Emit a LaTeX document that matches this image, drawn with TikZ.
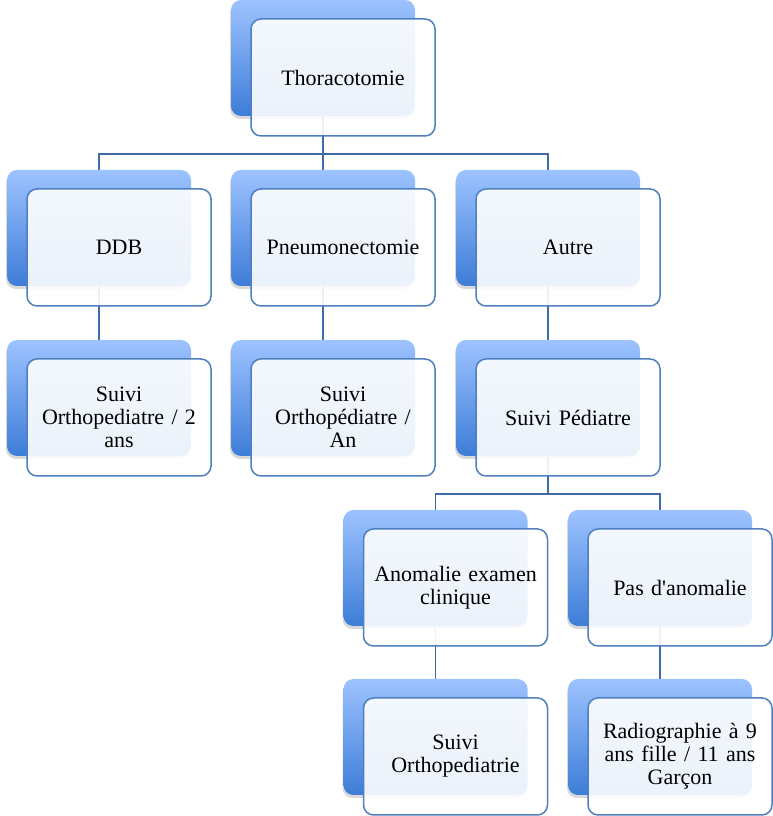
\documentclass[tikz,border=0pt]{standalone}
\usepackage{fontspec}
\setmainfont{Liberation Serif}
\usetikzlibrary{calc,shadows}
\definecolor{backtop}{HTML}{9DC3FF}
\definecolor{backbot}{HTML}{3D7DD8}
\definecolor{frontline}{HTML}{4F7FBE}
\definecolor{connc}{HTML}{3E6BA6}
\pgfdeclarelayer{bg}
\pgfsetlayers{bg,main}
\tikzset{
 backbox/.style={minimum width=184pt, minimum height=116pt, rounded corners=10pt, top color=backtop, bottom color=backbot, inner sep=0pt, drop shadow={opacity=0.3, shadow xshift=-1pt, shadow yshift=-3pt}},
 frontbox/.style={minimum width=184pt, minimum height=117pt, rounded corners=10pt, draw=frontline, line width=1.5pt, fill=white, fill opacity=0.9, text opacity=1, align=center, font=\fontsize{22}{23}\selectfont, inner sep=2pt, text width=176pt},
 connline/.style={draw=connc, line width=1.6pt}
}
\newcommand\smartnode[4]{%
 \node[backbox] (#1b) at (#2-20, 816-#3+19.5) {};
 \node[frontbox] (#1f) at (#2, 816-#3) {#4};
}
\begin{document}
\begin{tikzpicture}[x=1pt,y=1pt]
\useasboundingbox (0,0) rectangle (772,816);
\smartnode{th}{343}{77.5}{Thoracotomie}
\smartnode{ddb}{119}{247.5}{DDB}
\smartnode{pne}{343}{247.5}{Pneumonectomie}
\smartnode{aut}{568}{247.5}{Autre}
\smartnode{sot}{119}{417.5}{Suivi\\Orthopediatre / 2\\ans}
\smartnode{soa}{343}{417.5}{Suivi\\Orthopédiatre /\\An}
\smartnode{sped}{568}{417.5}{Suivi Pédiatre}
\smartnode{ano}{455.5}{587.5}{Anomalie examen\\clinique}
\smartnode{pas}{680}{587.5}{Pas d\textquotesingle anomalie}
\smartnode{sop}{455.5}{756.5}{Suivi\\Orthopediatrie}
\smartnode{rad}{680}{756.5}{Radiographie à 9\\ans fille / 11 ans\\Garçon}
\begin{pgfonlayer}{bg}
\coordinate (bus1) at ($(thb.south |- thf.south)+(0,-17)$);
\draw[connline] (thb.south) -- (bus1);
\draw[connline] (bus1) -| (ddbb.north);
\draw[connline] (bus1) -| (autb.north);
\draw[connline] (bus1) -- (pneb.north);
\draw[connline] (ddbb.south) -- (sotb.north);
\draw[connline] (pneb.south) -- (soab.north);
\draw[connline] (autb.south) -- (spedb.north);
\coordinate (bus2) at ($(spedb.south |- spedf.south)+(0,-17)$);
\draw[connline] (spedb.south) -- (bus2);
\draw[connline] (bus2) -| (anob.north);
\draw[connline] (bus2) -| (pasb.north);
\draw[connline] (anob.south) -- (sopb.north);
\draw[connline] (pasb.south) -- (radb.north);
\end{pgfonlayer}
\end{tikzpicture}
\end{document}
